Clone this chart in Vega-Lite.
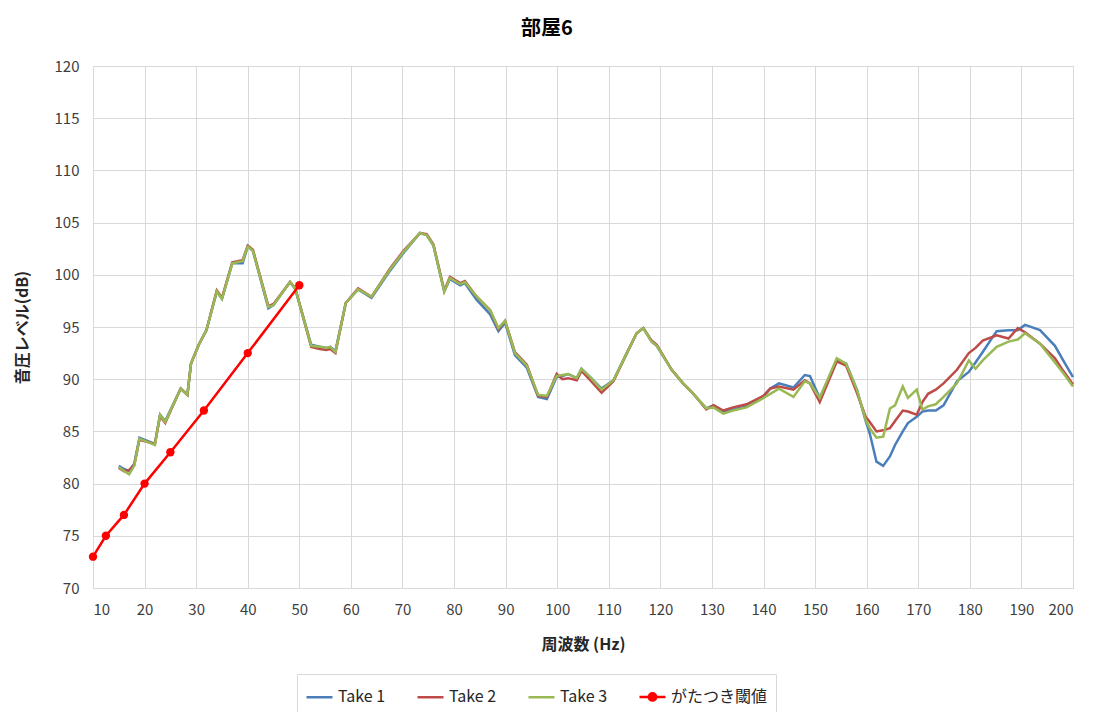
{
  "$schema": "https://vega.github.io/schema/vega-lite/v6.json",
  "autosize": "none",
  "width": 980,
  "height": 522,
  "padding": {"left": 93, "top": 66, "right": 20, "bottom": 124},
  "background": "white",
  "title": {"text": "部屋6", "font": "Noto Sans CJK JP", "fontSize": 20, "fontWeight": "bold", "color": "#000000", "anchor": "middle", "dx": -36, "offset": 20},
  "config": {
    "font": "Noto Sans CJK JP",
    "view": {"stroke": "#d9d9d9"},
    "axis": {"grid": true, "gridColor": "#d9d9d9", "gridWidth": 1, "ticks": false, "domainColor": "#d9d9d9", "labelFont": "Noto Sans CJK JP", "labelFontSize": 15, "labelColor": "#404040", "titleFont": "Noto Sans CJK JP", "titleFontSize": 16, "titleFontWeight": "bold", "titleColor": "#262626"}
  },
  "datasets": {
    "takes": [
      {"f": 15, "t1": 81.7, "t2": 81.5, "t3": 81.6},
      {"f": 16, "t1": 81.4, "t2": 81.2, "t3": 81.2},
      {"f": 17, "t1": 81.2, "t2": 81.3, "t3": 80.9},
      {"f": 18, "t1": 81.9, "t2": 81.8, "t3": 81.7},
      {"f": 19, "t1": 84.4, "t2": 84.2, "t3": 84.3},
      {"f": 22, "t1": 83.8, "t2": 83.8, "t3": 83.7},
      {"f": 23, "t1": 86.6, "t2": 86.5, "t3": 86.6},
      {"f": 24, "t1": 86.0, "t2": 85.8, "t3": 85.9},
      {"f": 27, "t1": 89.1, "t2": 89.1, "t3": 89.1},
      {"f": 28.3, "t1": 88.5, "t2": 88.5, "t3": 88.5},
      {"f": 29, "t1": 91.5, "t2": 91.5, "t3": 91.5},
      {"f": 30.5, "t1": 93.3, "t2": 93.3, "t3": 93.3},
      {"f": 32, "t1": 94.7, "t2": 94.7, "t3": 94.7},
      {"f": 34, "t1": 98.4, "t2": 98.5, "t3": 98.4},
      {"f": 35, "t1": 97.7, "t2": 97.8, "t3": 97.7},
      {"f": 37, "t1": 101.1, "t2": 101.2, "t3": 101.1},
      {"f": 39, "t1": 101.1, "t2": 101.4, "t3": 101.3},
      {"f": 40, "t1": 102.7, "t2": 102.8, "t3": 102.7},
      {"f": 41, "t1": 102.3, "t2": 102.4, "t3": 102.3},
      {"f": 44, "t1": 96.8, "t2": 97.0, "t3": 96.9},
      {"f": 45, "t1": 97.1, "t2": 97.2, "t3": 97.1},
      {"f": 48.2, "t1": 99.3, "t2": 99.3, "t3": 99.3},
      {"f": 49.2, "t1": 98.7, "t2": 98.7, "t3": 98.7},
      {"f": 52.3, "t1": 93.3, "t2": 93.1, "t3": 93.2},
      {"f": 54, "t1": 93.1, "t2": 92.9, "t3": 93.1},
      {"f": 55.3, "t1": 93.0, "t2": 92.8, "t3": 93.0},
      {"f": 56, "t1": 93.1, "t2": 92.9, "t3": 93.1},
      {"f": 57, "t1": 92.7, "t2": 92.5, "t3": 92.6},
      {"f": 59, "t1": 97.3, "t2": 97.3, "t3": 97.3},
      {"f": 61.4, "t1": 98.6, "t2": 98.7, "t3": 98.6},
      {"f": 64, "t1": 97.8, "t2": 97.9, "t3": 97.9},
      {"f": 67.6, "t1": 100.4, "t2": 100.6, "t3": 100.5},
      {"f": 70.2, "t1": 102.1, "t2": 102.3, "t3": 102.2},
      {"f": 73.4, "t1": 104.0, "t2": 104.0, "t3": 104.0},
      {"f": 74.7, "t1": 103.8, "t2": 103.9, "t3": 103.8},
      {"f": 76, "t1": 102.8, "t2": 102.9, "t3": 102.8},
      {"f": 78.1, "t1": 98.4, "t2": 98.5, "t3": 98.4},
      {"f": 79.2, "t1": 99.6, "t2": 99.8, "t3": 99.7},
      {"f": 81.2, "t1": 99.0, "t2": 99.2, "t3": 99.1},
      {"f": 82.1, "t1": 99.2, "t2": 99.4, "t3": 99.3},
      {"f": 84.4, "t1": 97.6, "t2": 97.9, "t3": 97.9},
      {"f": 87, "t1": 96.2, "t2": 96.6, "t3": 96.6},
      {"f": 88.6, "t1": 94.6, "t2": 94.8, "t3": 94.9},
      {"f": 89.9, "t1": 95.4, "t2": 95.6, "t3": 95.6},
      {"f": 91.8, "t1": 92.3, "t2": 92.6, "t3": 92.5},
      {"f": 94.1, "t1": 91.1, "t2": 91.4, "t3": 91.3},
      {"f": 96.3, "t1": 88.3, "t2": 88.4, "t3": 88.5},
      {"f": 98, "t1": 88.1, "t2": 88.3, "t3": 88.4},
      {"f": 99.9, "t1": 90.2, "t2": 90.5, "t3": 90.3},
      {"f": 101, "t1": 90.3, "t2": 90.0, "t3": 90.4},
      {"f": 102.1, "t1": 90.5, "t2": 90.1, "t3": 90.5},
      {"f": 103.8, "t1": 90.1, "t2": 89.9, "t3": 90.1},
      {"f": 104.7, "t1": 91.0, "t2": 90.8, "t3": 91.0},
      {"f": 106.4, "t1": 90.2, "t2": 89.9, "t3": 90.2},
      {"f": 108.6, "t1": 89.1, "t2": 88.7, "t3": 89.0},
      {"f": 110.9, "t1": 89.9, "t2": 89.8, "t3": 89.9},
      {"f": 113.5, "t1": 92.5, "t2": 92.5, "t3": 92.5},
      {"f": 115.4, "t1": 94.4, "t2": 94.4, "t3": 94.4},
      {"f": 116.7, "t1": 94.9, "t2": 94.9, "t3": 94.9},
      {"f": 118.3, "t1": 93.6, "t2": 93.7, "t3": 93.6},
      {"f": 119.3, "t1": 93.2, "t2": 93.3, "t3": 93.2},
      {"f": 122.2, "t1": 90.9, "t2": 90.9, "t3": 90.9},
      {"f": 124.4, "t1": 89.6, "t2": 89.6, "t3": 89.6},
      {"f": 126.4, "t1": 88.6, "t2": 88.6, "t3": 88.6},
      {"f": 128.9, "t1": 87.2, "t2": 87.1, "t3": 87.2},
      {"f": 130.3, "t1": 87.5, "t2": 87.5, "t3": 87.3},
      {"f": 132.2, "t1": 86.9, "t2": 87.0, "t3": 86.7},
      {"f": 134.1, "t1": 87.1, "t2": 87.3, "t3": 87.0},
      {"f": 136.7, "t1": 87.4, "t2": 87.6, "t3": 87.3},
      {"f": 140, "t1": 88.4, "t2": 88.4, "t3": 88.2},
      {"f": 141.3, "t1": 89.1, "t2": 89.1, "t3": 88.6},
      {"f": 143, "t1": 89.6, "t2": 89.3, "t3": 89.1},
      {"f": 145.8, "t1": 89.2, "t2": 89.0, "t3": 88.3},
      {"f": 148, "t1": 90.4, "t2": 89.9, "t3": 89.8},
      {"f": 149, "t1": 90.3, "t2": 89.6, "t3": 89.6},
      {"f": 150.9, "t1": 88.2, "t2": 87.8, "t3": 88.2},
      {"f": 154.2, "t1": 91.8, "t2": 91.7, "t3": 92.0},
      {"f": 156, "t1": 91.5, "t2": 91.3, "t3": 91.5},
      {"f": 158.1, "t1": 89.0, "t2": 88.7, "t3": 89.0},
      {"f": 159.8, "t1": 86.0, "t2": 86.4, "t3": 86.1},
      {"f": 160.6, "t1": 84.8, "t2": 85.9, "t3": 85.3},
      {"f": 161.9, "t1": 82.1, "t2": 85.0, "t3": 84.4},
      {"f": 163.2, "t1": 81.7, "t2": 85.1, "t3": 84.5},
      {"f": 164.5, "t1": 82.6, "t2": 85.3, "t3": 87.2},
      {"f": 165.5, "t1": 83.7, "t2": 86.0, "t3": 87.5},
      {"f": 167, "t1": 85.0, "t2": 87.0, "t3": 89.3},
      {"f": 168, "t1": 85.8, "t2": 86.9, "t3": 88.2},
      {"f": 169.7, "t1": 86.4, "t2": 86.6, "t3": 89.0},
      {"f": 170.8, "t1": 86.9, "t2": 87.8, "t3": 87.1},
      {"f": 171.9, "t1": 87.0, "t2": 88.6, "t3": 87.4},
      {"f": 173.4, "t1": 87.0, "t2": 89.0, "t3": 87.6},
      {"f": 174.9, "t1": 87.5, "t2": 89.6, "t3": 88.3},
      {"f": 177.5, "t1": 89.8, "t2": 90.9, "t3": 89.6},
      {"f": 179.8, "t1": 90.7, "t2": 92.5, "t3": 91.8},
      {"f": 181.1, "t1": 91.6, "t2": 93.0, "t3": 91.0},
      {"f": 182.5, "t1": 92.6, "t2": 93.7, "t3": 91.8},
      {"f": 185.2, "t1": 94.6, "t2": 94.2, "t3": 93.1},
      {"f": 187.5, "t1": 94.7, "t2": 93.9, "t3": 93.6},
      {"f": 189.3, "t1": 94.7, "t2": 94.9, "t3": 93.8},
      {"f": 190.7, "t1": 95.2, "t2": 94.5, "t3": 94.4},
      {"f": 193.6, "t1": 94.7, "t2": 93.4, "t3": 93.4},
      {"f": 196.5, "t1": 93.2, "t2": 92.0, "t3": 91.6},
      {"f": 198.1, "t1": 91.8, "t2": 90.8, "t3": 90.6},
      {"f": 200, "t1": 90.2, "t2": 89.5, "t3": 89.3}
    ],
    "threshold": [
      {"f": 10, "v": 73},
      {"f": 12.5, "v": 75},
      {"f": 16, "v": 77},
      {"f": 20, "v": 80},
      {"f": 25, "v": 83},
      {"f": 31.5, "v": 87},
      {"f": 40, "v": 92.5},
      {"f": 50, "v": 99}
    ]
  },
  "layer": [
    {
      "data": {"name": "takes"},
      "transform": [
        {"fold": ["t1", "t2", "t3"], "as": ["key", "level"]},
        {"lookup": "key", "from": {"data": {"values": [{"key": "t1", "take": "Take 1"}, {"key": "t2", "take": "Take 2"}, {"key": "t3", "take": "Take 3"}]}, "key": "key", "fields": ["take"]}}
      ],
      "mark": {"type": "line", "strokeWidth": 2.5, "interpolate": "linear"},
      "encoding": {
        "x": {"field": "f", "type": "quantitative", "scale": {"domain": [10, 200], "nice": false, "zero": false},
              "axis": {"title": "周波数 (Hz)", "values": [10, 20, 30, 40, 50, 60, 70, 80, 90, 100, 110, 120, 130, 140, 150, 160, 170, 180, 190, 200], "labelPadding": 14, "titlePadding": 19}},
        "y": {"field": "level", "type": "quantitative", "scale": {"domain": [70, 120], "nice": false, "zero": false},
              "axis": {"title": "音圧レベル(dB)", "values": [70, 75, 80, 85, 90, 95, 100, 105, 110, 115, 120], "labelPadding": 14, "titlePadding": 24}},
        "color": {"field": "take", "type": "nominal",
          "scale": {"domain": ["Take 1", "Take 2", "Take 3", "がたつき閾値"], "range": ["#4a7ebb", "#be4b48", "#98b954", "#ff0000"]},
          "legend": {
            "title": null, "orient": "none", "legendX": 204, "legendY": 608, "direction": "horizontal",
            "symbolType": "stroke", "symbolSize": 676, "symbolStrokeWidth": 2.5,
            "labelFont": "Noto Sans CJK JP", "labelFontSize": 16, "labelColor": "#262626", "labelOffset": 4,
            "columnPadding": 26, "padding": 8, "strokeColor": "#d9d9d9", "fillColor": "white",
            "encode": {"symbols": {"update": {
              "shape": {"signal": "datum.label === 'がたつき閾値' ? 'M-1,0H1M-0.28,0A0.28,0.28 0 1,0 0.28,0A0.28,0.28 0 1,0 -0.28,0Z' : 'stroke'"},
              "fill": {"signal": "datum.label === 'がたつき閾値' ? '#ff0000' : 'transparent'"}
            }}}
          }
        },
        "order": {"field": "f", "type": "quantitative"}
      }
    },
    {
      "data": {"name": "threshold"},
      "mark": {"type": "line", "strokeWidth": 2.5, "point": {"filled": true, "size": 70, "color": "#ff0000"}},
      "encoding": {
        "x": {"field": "f", "type": "quantitative"},
        "y": {"field": "v", "type": "quantitative"},
        "color": {"datum": "がたつき閾値"}
      }
    }
  ]
}
